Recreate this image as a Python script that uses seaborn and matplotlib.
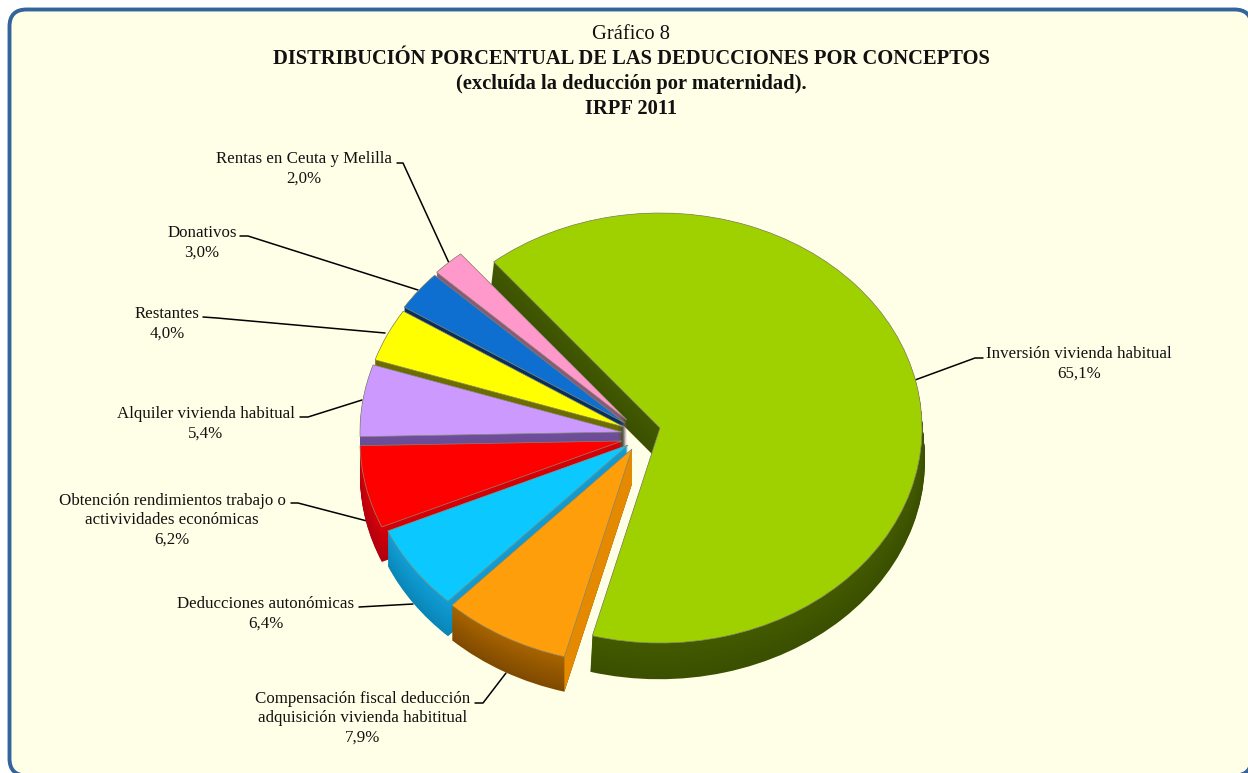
import numpy as np
import seaborn as sns
import matplotlib
matplotlib.use("Agg")
import matplotlib.pyplot as plt
from matplotlib.patches import FancyBboxPatch

# data
conceptos = ["Inversión vivienda habitual",
             "Compensación fiscal deducción\nadquisición vivienda habititual",
             "Deducciones autonómicas",
             "Obtención rendimientos trabajo o\nactivividades económicas",
             "Alquiler vivienda habitual",
             "Restantes",
             "Donativos",
             "Rentas en Ceuta y Melilla"]
porcentajes = [65.1, 7.9, 6.4, 6.2, 5.4, 4.0, 3.0, 2.0]
titulo = "Gráfico 8"
subtitulos = ["DISTRIBUCIÓN PORCENTUAL DE LAS DEDUCCIONES POR CONCEPTOS",
              "(excluída la deducción por maternidad).",
              "IRPF 2011"]

# colours
top_colors = ["#9FD000", "#FF9E0B", "#0BC8FF", "#FF0000",
              "#CC99FF", "#FFFF00", "#0F6FD0", "#FF99CC"]
wall_dark = ["#3A4F00", "#7F4A00", "#0A86B8", "#B00010",
             "#5E4388", "#5E5E00", "#06284F", "#80506E"]
wall_light = ["#435A00", "#A86400", "#109FD6", "#D80008",
              "#6F4F9C", "#6E6E00", "#08305E", "#8C5A78"]
cut_colors = {1: "#E58A00"}

# layout, in pixels of the picture
W, H = 1248, 773
RX, RY = 262, 215
apex = [(660, 428), (632, 449), (628, 445), (622, 441),
        (622, 432), (624, 427), (625, 423), (627, 420)]
wall_shift = [(-1, 33), (0, 35), (0, 35), (0, 35),
              (0, 35), (0, 35), (0, 35), (0, 35)]
wall_grow = [0.015, 0, 0, 0, 0, 0, 0, 0]
layers = 36

# text centre x, first line y, leader points
label_x = [1079, 363, 266, 172, 206, 167, 202, 304]
label_y = [352, 697, 602, 499, 412, 312, 231, 157]
leaders = [[(983, 358), (975, 358), (915, 380)],
           [(475, 703), (483, 703), (506, 673)],
           [(359, 607), (413, 604)],
           [(291, 503), (298, 503), (367, 521)],
           [(300, 417), (308, 417), (362, 400)],
           [(203, 317), (217, 318), (385, 333)],
           [(240, 236), (248, 236), (418, 290)],
           [(397, 163), (403, 163), (449, 263)]]

sns.set_theme(style="white")
plt.rcParams["font.family"] = ["Liberation Serif", "DejaVu Serif"]

fig = plt.figure(figsize=(W / 100, H / 100), dpi=100, facecolor="white")

# frame, text and leader lines go in an axes that counts in pixels
ax = fig.add_axes([0, 0, 1, 1], zorder=0)
ax.set_xlim(0, W)
ax.set_ylim(H, 0)
ax.axis("off")
ax.add_patch(FancyBboxPatch((9.5, 9.5), W - 6, H - 7,
                            boxstyle="round,pad=0,rounding_size=17",
                            facecolor="#FFFFE7", edgecolor="#33659C", linewidth=2.8,
                            clip_on=True))

ax.text(631, 34.5, titulo, ha="center", va="center", fontsize=14.75, color="#111111")
for s, y in zip(subtitulos, [58.5, 83.5, 108.5]):
    ax.text(631, y, s, ha="center", va="center", fontsize=14.75,
            fontweight="bold", color="#111111")

for i, c in enumerate(conceptos):
    valor = f"{porcentajes[i]:.1f}".replace(".", ",") + "%"
    ax.text(label_x[i], label_y[i] - 6, c + "\n" + valor, ha="center", va="top",
            fontsize=12.2, linespacing=1.28, color="#111111")
    xs, ys = zip(*leaders[i])
    ax.plot(xs, ys, color="black", lw=1.1, solid_capstyle="round")

# the pie, one unit of radius is RX by RY pixels
pie_ax = fig.add_axes([0, 0, 1, 1], zorder=1)
pie_ax.patch.set_visible(False)


def to_data(px, py):
    return px / RX, -py / RY


wall_pal = [sns.blend_palette([d, l], layers) for d, l in zip(wall_dark, wall_light)]

# walls, from the bottom layer up
for k in range(layers):
    t = 1 - k / (layers - 1)
    wedges, _ = pie_ax.pie(porcentajes, startangle=129.4, counterclock=False,
                           colors=[p[k] for p in wall_pal], radius=1)
    for i, w in enumerate(wedges):
        w.set_center(to_data(apex[i][0] + t * wall_shift[i][0],
                             apex[i][1] + t * wall_shift[i][1]))
        w.set_radius(1 + t * wall_grow[i])
        w.set_linewidth(0)
        w.set_zorder(k + 1)

# straight side of the exploded orange slice, lighter than its round wall
for i, col in cut_colors.items():
    ref = pie_ax.patches[i]
    a = np.deg2rad(ref.theta2)
    x0, y0 = apex[i]
    dx, dy = wall_shift[i]
    xs = np.array([x0, x0 + RX * np.cos(a), x0 + RX * np.cos(a) + dx, x0 + dx])
    ys = np.array([y0, y0 - RY * np.sin(a), y0 - RY * np.sin(a) + dy, y0 + dy])
    pie_ax.fill(xs / RX, -ys / RY, color=col, lw=0, zorder=layers + 1)

# top faces
wedges, _ = pie_ax.pie(porcentajes, startangle=129.4, counterclock=False,
                       colors=top_colors, radius=1,
                       wedgeprops={"edgecolor": "#8A8A70", "linewidth": 0.5})
for i, w in enumerate(wedges):
    w.set_center(to_data(*apex[i]))
    w.set_zorder(layers + 2)

pie_ax.set_aspect("auto")
pie_ax.set_xlim(0, W / RX)
pie_ax.set_ylim(-H / RY, 0)

fig.savefig("out.png", dpi=100, facecolor="white")
